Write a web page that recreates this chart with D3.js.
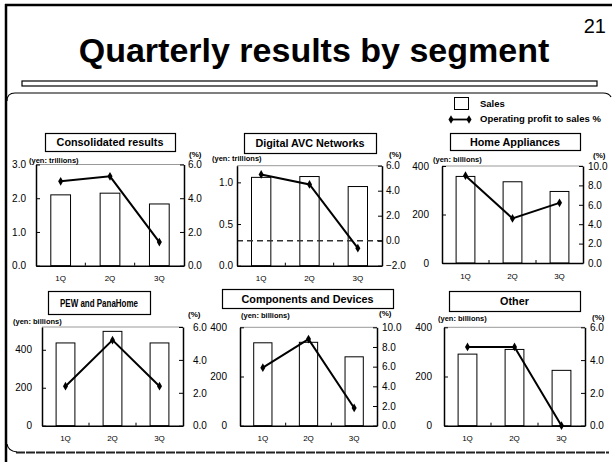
<!DOCTYPE html>
<html>
<head>
<meta charset="utf-8">
<script src="https://cdn.jsdelivr.net/npm/d3@7"></script>
<style>
  html, body { margin: 0; padding: 0; background: #fff; }
  svg { display: block; font-family: "Liberation Sans", Arial, sans-serif; }
  .axis path, .axis line { stroke: #000; }
</style>
</head>
<body>
<svg id="chart" width="612" height="462"></svg>
<script>
// Quarters shown on every panel
const quarters = ["1Q", "2Q", "3Q"];

// Segment panel titles
const segmentNames = [
  "Consolidated results",
  "Digital AVC Networks",
  "Home Appliances",
  "PEW and PanaHome",
  "Components and Devices",
  "Other"
];

// Unit labels for the sales axis
const salesUnits = [
  "(yen: trillions)", "(yen: trillions)", "(yen: billions)",
  "(yen: billions)", "(yen: billions)", "(yen: billions)"
];

// Sales per quarter (bars)
const salesConsolidated = [2.10, 2.15, 1.83];
const salesDigitalAVC   = [1.06, 1.07, 0.95];
const salesHomeAppl     = [357, 335, 295];
const salesPEW          = [436, 497, 436];
const salesComponents   = [337, 339, 280];
const salesOther        = [291, 310, 225];

// Operating profit to sales, % (line)
const marginConsolidated = [5.0, 5.3, 1.4];
const marginDigitalAVC   = [5.3, 4.5, -0.6];
const marginHomeAppl     = [9.0, 4.6, 6.2];
const marginPEW          = [2.4, 5.2, 2.4];
const marginComponents   = [5.9, 8.8, 1.8];
const marginOther        = [4.8, 4.8, 0.0];

// Axis ranges and tick values
const salesMax   = [3, 1.2, 400, 520, 400, 400];
const salesTicks = [[0, 1, 2, 3], [0, 0.5, 1.0], [0, 200, 400], [0, 200, 400], [0, 200, 400], [0, 200, 400]];
const salesFmt   = [".1f", ".1f", "d", "d", "d", "d"];
const marginDomain = [[0, 6], [-2, 6], [0, 10], [0, 6], [0, 10], [0, 6]];
const marginTicks  = [[0, 2, 4, 6], [-2, 0, 2, 4, 6], [0, 2, 4, 6, 8, 10], [0, 2, 4, 6], [0, 2, 4, 6, 8, 10], [0, 2, 4, 6]];

const salesSeries  = [salesConsolidated, salesDigitalAVC, salesHomeAppl, salesPEW, salesComponents, salesOther];
const marginSeries = [marginConsolidated, marginDigitalAVC, marginHomeAppl, marginPEW, marginComponents, marginOther];

// Panel geometry: plot box, title box, label offsets
const layout = [
  { x0: 36,  x1: 184, top: 164.5, bot: 265.7, lgap: 10, rgap: 4,  title: [45, 133, 130, 18],  fit: 0,  unit: [29, 163],  pct: [189, 157], zeroLine: false },
  { x0: 237, x1: 382, top: 165.7, bot: 265.7, lgap: 4,  rgap: 4,  title: [244, 133, 132, 20], fit: 0,  unit: [212, 161], pct: [389, 157], zeroLine: true },
  { x0: 442, x1: 583, top: 166,   bot: 263,   lgap: 13, rgap: 5,  title: [450, 133, 130, 17], fit: 0,  unit: [433, 162], pct: [593, 158], zeroLine: false },
  { x0: 42,  x1: 183, top: 327,   bot: 425.7, lgap: 10, rgap: 10, title: [48, 291, 102, 23],  fit: 78, unit: [13, 324],  pct: [188, 317], zeroLine: false },
  { x0: 240, x1: 377, top: 327.3, bot: 425.7, lgap: 13, rgap: 5,  title: [222, 289, 171, 19], fit: 0,  unit: [241, 318], pct: [379, 316], zeroLine: false },
  { x0: 444, x1: 585, top: 327.3, bot: 425.7, lgap: 12, rgap: 5,  title: [449, 291, 131, 20], fit: 0,  unit: [438, 321], pct: [592, 320], zeroLine: false }
];

const svg = d3.select("#chart");

// Page frame
svg.append("line").attr("x1", 5).attr("x2", 612).attr("y1", 5).attr("y2", 5)
  .attr("stroke", "#000").attr("stroke-width", 2.5);
svg.append("line").attr("x1", 6).attr("x2", 6).attr("y1", 4).attr("y2", 462)
  .attr("stroke", "#000").attr("stroke-width", 2.5);

// Page number and heading
svg.append("text").attr("x", 606).attr("y", 33).attr("text-anchor", "end")
  .attr("font-size", 20).text("21");
svg.append("text").attr("x", 314).attr("y", 62).attr("text-anchor", "middle")
  .attr("font-size", 34).attr("font-weight", "bold").text("Quarterly results by segment");

// Heading rule
svg.append("rect").attr("x", 22).attr("y", 81).attr("width", 575).attr("height", 5)
  .attr("fill", "#fff").attr("stroke", "#000").attr("stroke-width", 1.2);

// Rounded content panel edges
svg.append("path").attr("d", "M7,101 Q7,93 15,93 L603,93 Q609,93 611,97")
  .attr("fill", "none").attr("stroke", "#000").attr("stroke-width", 1.2);
svg.append("path").attr("d", "M7,444 Q8,451 17,452")
  .attr("fill", "none").attr("stroke", "#000").attr("stroke-width", 1.2);
svg.append("line").attr("x1", 16).attr("x2", 609).attr("y1", 452.5).attr("y2", 452.5)
  .attr("stroke", "#222").attr("stroke-width", 2.2).attr("stroke-dasharray", "9,1");

// Legend
const diamond = d3.symbol().type(d3.symbolDiamond).size(22);
svg.append("rect").attr("x", 454.5).attr("y", 97.5).attr("width", 14).attr("height", 12)
  .attr("fill", "#fff").attr("stroke", "#000");
svg.append("text").attr("x", 480).attr("y", 107).attr("font-size", 9.5).attr("font-weight", "bold").text("Sales");
svg.append("line").attr("x1", 451).attr("x2", 469).attr("y1", 119.5).attr("y2", 119.5)
  .attr("stroke", "#000").attr("stroke-width", 1.8);
[451, 469].forEach(x => svg.append("path").attr("d", diamond).attr("transform", `translate(${x},119.5)`));
svg.append("text").attr("x", 480).attr("y", 122).attr("font-size", 9.5).attr("font-weight", "bold")
  .text("Operating profit to sales %");

// One combined bar + line panel per segment
layout.forEach((L, i) => {
  const g = svg.append("g");
  const x = d3.scaleBand().domain(quarters).range([L.x0, L.x1]).paddingInner(0.6).paddingOuter(0.3);
  const step = x.step();
  const yL = d3.scaleLinear().domain([0, salesMax[i]]).range([L.bot, L.top]);
  const yR = d3.scaleLinear().domain(marginDomain[i]).range([L.bot, L.top]);

  // Title box
  const [tx, ty, tw, th] = L.title;
  g.append("rect").attr("x", tx + 0.5).attr("y", ty + 0.5).attr("width", tw).attr("height", th)
    .attr("fill", "#fff").attr("stroke", "#000").attr("stroke-width", 1.2);
  const tt = g.append("text").attr("x", tx + tw / 2).attr("y", ty + th / 2 + 4).attr("text-anchor", "middle")
    .attr("font-size", 10.8).attr("font-weight", "bold").text(segmentNames[i]);
  if (L.fit) tt.attr("textLength", L.fit).attr("lengthAdjust", "spacingAndGlyphs");

  // Top edge of plot area
  g.append("line").attr("x1", L.x0).attr("x2", L.x1).attr("y1", L.top).attr("y2", L.top)
    .attr("stroke", "#999").attr("stroke-width", 1);

  // Bars
  g.selectAll("rect.bar").data(salesSeries[i]).join("rect").attr("class", "bar")
    .attr("x", (d, k) => x(quarters[k]))
    .attr("y", d => yL(d))
    .attr("width", x.bandwidth())
    .attr("height", d => yL(0) - yL(d))
    .attr("fill", "#fff").attr("stroke", "#000").attr("stroke-width", 1);

  // Zero reference for the margin axis
  if (L.zeroLine) {
    g.append("line").attr("x1", L.x0).attr("x2", L.x1).attr("y1", yR(0)).attr("y2", yR(0))
      .attr("stroke", "#333").attr("stroke-width", 1.6).attr("stroke-dasharray", "6,4");
  }

  // Margin line with diamond markers
  const cx = k => x(quarters[k]) + x.bandwidth() / 2;
  g.append("path").datum(marginSeries[i])
    .attr("d", d3.line().x((d, k) => cx(k)).y(d => yR(d)))
    .attr("fill", "none").attr("stroke", "#000").attr("stroke-width", 2);
  g.selectAll("path.pt").data(marginSeries[i]).join("path").attr("class", "pt")
    .attr("d", diamond).attr("transform", (d, k) => `translate(${cx(k)},${yR(d)})`);

  // Left (sales) axis
  const la = g.append("g").attr("class", "axis").attr("transform", `translate(${L.x0},0)`)
    .call(d3.axisLeft(yL).tickValues(salesTicks[i]).tickFormat(d3.format(salesFmt[i]))
      .tickSizeInner(-4).tickSizeOuter(0).tickPadding(L.lgap));
  la.select(".domain").attr("stroke-width", 1.5);
  la.selectAll("text").attr("font-size", 10).attr("fill", "#000");

  // Right (margin) axis
  const ra = g.append("g").attr("class", "axis").attr("transform", `translate(${L.x1},0)`)
    .call(d3.axisRight(yR).tickValues(marginTicks[i]).tickFormat(d => d < 0 ? "\u22122.0" : d3.format(".1f")(d))
      .tickSizeInner(-4).tickSizeOuter(0).tickPadding(L.rgap));
  ra.select(".domain").attr("stroke-width", 1.5);
  ra.selectAll("text").attr("font-size", 10).attr("fill", "#000");

  // Category axis
  const ba = g.append("g").attr("class", "axis").attr("transform", `translate(0,${L.bot})`)
    .call(d3.axisBottom(x).tickSize(0).tickPadding(10));
  ba.select(".domain").attr("stroke-width", 1.5);
  ba.selectAll("text").attr("font-size", 8).attr("fill", "#000");
  [1, 2].forEach(k => {
    const bx = L.x0 + step * k;
    g.append("line").attr("x1", bx).attr("x2", bx).attr("y1", L.bot).attr("y2", L.bot - 3)
      .attr("stroke", "#000");
  });

  // Unit captions
  g.append("text").attr("x", L.unit[0]).attr("y", L.unit[1]).attr("font-size", 7.5)
    .attr("font-weight", "bold").text(salesUnits[i]);
  g.append("text").attr("x", L.pct[0]).attr("y", L.pct[1]).attr("font-size", 8)
    .attr("font-weight", "bold").text("(%)");
});
</script>
</body>
</html>
